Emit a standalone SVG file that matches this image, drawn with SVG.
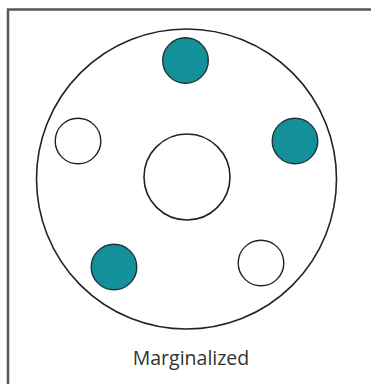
<svg xmlns="http://www.w3.org/2000/svg" width="371" height="384" viewBox="0 0 371 384">
<style>
.frame{fill:none;stroke:#555;stroke-width:2.5}
.ring{fill:#fff;stroke:#222;stroke-width:1.6}
.open{fill:#fff;stroke:#222;stroke-width:1.4}
.fill{fill:#14909b;stroke:#1e3438;stroke-width:1.4}
.label{font-family:"Open Sans","Noto Sans",sans-serif;font-size:19.5px;fill:#333;text-anchor:middle}
</style>
<rect width="371" height="384" fill="#fff"/>
<rect class="frame" x="8" y="9.5" width="380" height="390"/>
<g id="outer"><circle class="ring" cx="186.5" cy="179" r="150"/></g>
<g id="center"><circle class="ring" cx="187" cy="177" r="43"/></g>
<g id="top"><circle class="fill" cx="185.5" cy="60.5" r="22.8"/></g>
<g id="right"><circle class="fill" cx="295" cy="141" r="22.8"/></g>
<g id="left"><circle class="open" cx="78" cy="141" r="22.8"/></g>
<g id="bottomleft"><circle class="fill" cx="114" cy="267" r="22.8"/></g>
<g id="bottomright"><circle class="open" cx="261" cy="263" r="22.8"/></g>
<g id="connectors"></g>
<text class="label" x="191" y="365">Marginalized</text>
</svg>
